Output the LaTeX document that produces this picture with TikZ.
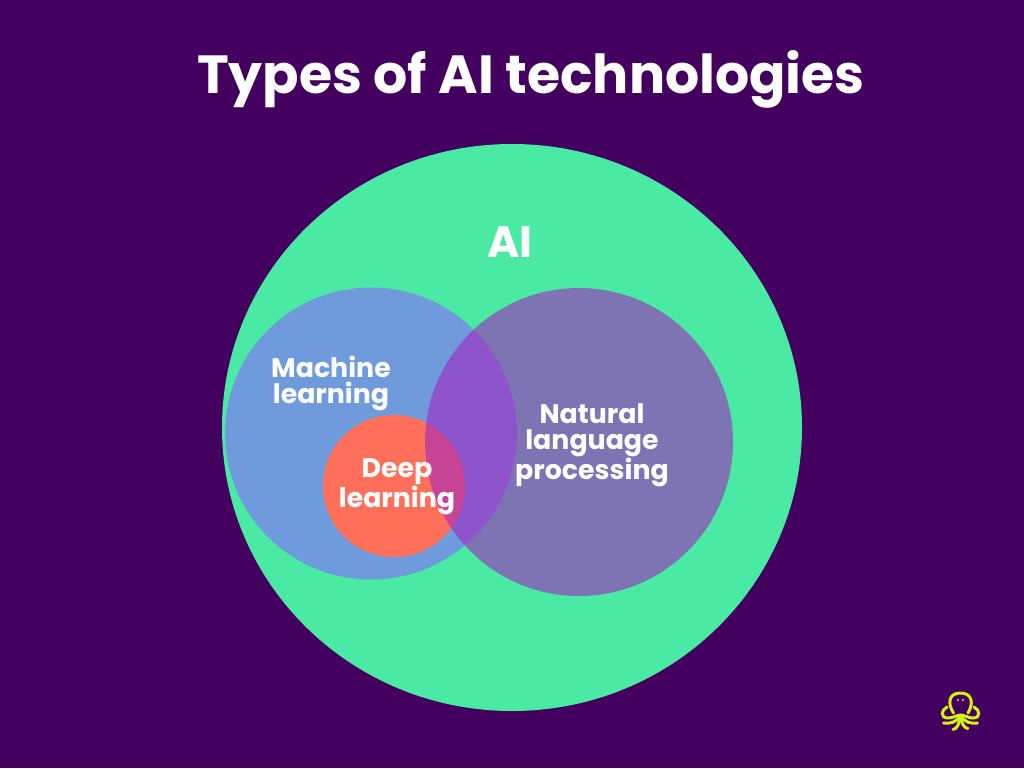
\documentclass[tikz,border=0pt]{standalone}
\usepackage{fontspec}
\setmainfont{Poppins}[BoldFont={Poppins Bold}]
\definecolor{bgc}{RGB}{67,0,94}
\definecolor{greenc}{RGB}{74,233,164}
\definecolor{bluec}{RGB}{111,155,220}
\definecolor{redc}{RGB}{255,111,89}
\definecolor{purplec}{RGB}{162,38,192}
\definecolor{logoc}{RGB}{214,240,20}
\tikzset{
  lbl/.style={text=white,font=\bfseries\fontsize{26.8}{26}\selectfont,align=center,inner sep=0pt},
  tent/.style={draw=logoc,line width=3pt,line cap=round,fill=none}
}
\begin{document}
\begin{tikzpicture}[x=1pt,y=-1pt]
\useasboundingbox (0,0) rectangle (1024,768);
\fill[bgc] (0,0) rectangle (1024,768);
\node[lbl,font=\bfseries\fontsize{53.7}{56}\selectfont] (title) at (531,79) {Types of AI technologies};
\fill[greenc] (512,427.5) ellipse [x radius=290,y radius=283.5];
\fill[bluec] (371,433.5) circle [radius=146];
\fill[redc] (394,486) circle [radius=71];
\node[lbl,font=\bfseries\fontsize{44}{46}\selectfont] (ai) at (510,242) {AI};
\node[lbl,text width=140pt] (ml) at (331,383) {Machine\\learning};
\node[lbl,text width=140pt] (dl) at (397,487) {Deep\\learning};
\fill[purplec,opacity=.6] (579,442) circle [radius=154];
\node[lbl,text width=180pt] (nlp) at (592,445) {Natural\\language\\processing};
\begin{scope}
\clip (579,442) circle [radius=154];
\node[lbl,text width=140pt] at (397,487) {Deep\\learning};
\end{scope}
% logo
\draw[tent] (953.5,713) .. controls (947,703) and (949,693) .. (960.5,693) .. controls (972,693) and (974,703) .. (968,713);
\fill[logoc] (958,700) circle [radius=1.2] (963,700) circle [radius=1.2];
\draw[tent] (947,707) .. controls (941,710) and (940,718) .. (948,718) .. controls (953,718) and (957,715) .. (960.5,715) .. controls (964,715) and (968,718) .. (973,718) .. controls (981,718) and (980,710) .. (974,707);
\draw[tent] (960.5,716) .. controls (956,722) and (951,724) .. (943.5,723);
\draw[tent] (960.5,716) .. controls (965,722) and (970,724) .. (977.5,723);
\draw[tent] (960.5,717) .. controls (959,724) and (957,729) .. (953,729.5);
\draw[tent] (960.5,717) .. controls (962,724) and (964,728) .. (968,728.5);
\end{tikzpicture}
\end{document}
